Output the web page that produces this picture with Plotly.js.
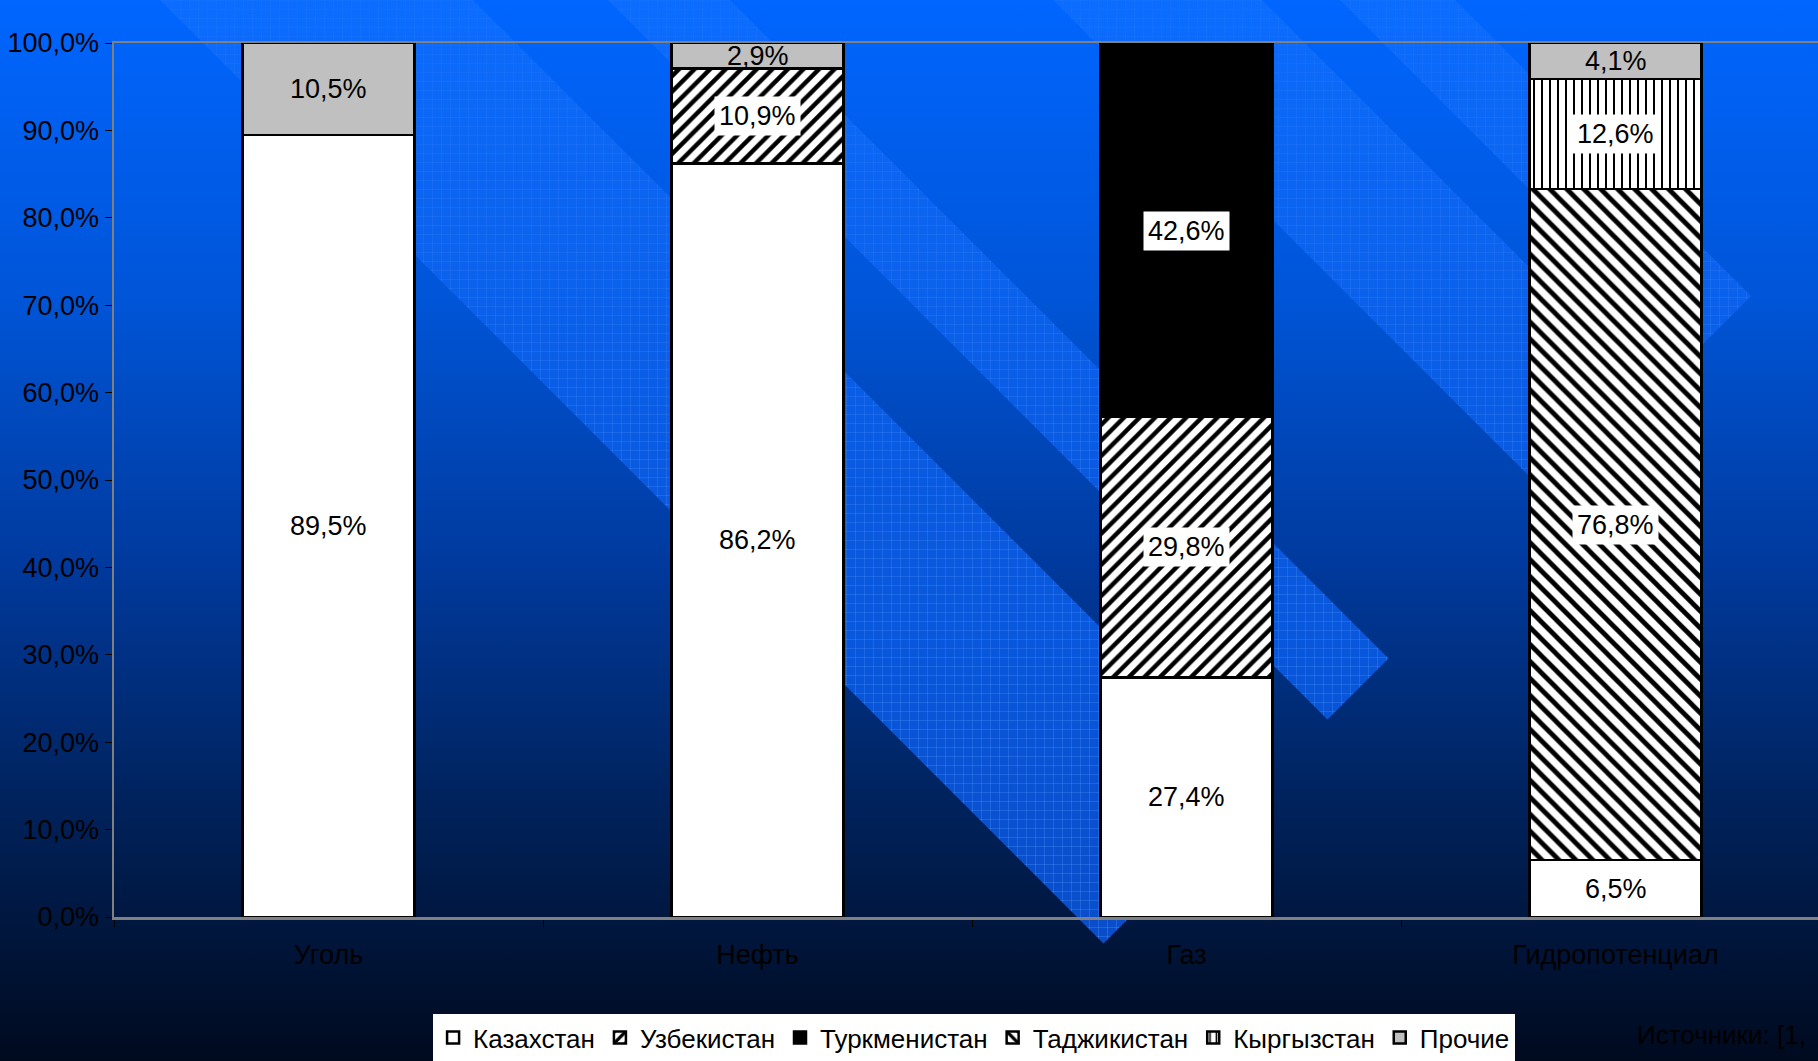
<!DOCTYPE html>
<html>
<head>
<meta charset="utf-8">
<script src="https://cdn.plot.ly/plotly-3.0.1.min.js"></script>
<style>
  html, body { margin: 0; padding: 0; width: 1818px; height: 1061px; overflow: hidden; background: #000a1f; }
  #bg { position: absolute; left: 0; top: 0; }
  #chart { position: absolute; left: 0; top: 0; width: 1818px; height: 1061px; }
</style>
</head>
<body>
<svg id="bg" width="1818" height="1061" xmlns="http://www.w3.org/2000/svg">
  <defs>
    <linearGradient id="bgGrad" x1="0" y1="0" x2="0" y2="1061" gradientUnits="userSpaceOnUse">
      <stop offset="0" stop-color="#0066ff"/>
      <stop offset="0.28" stop-color="#0055d8"/>
      <stop offset="0.53" stop-color="#003a9e"/>
      <stop offset="0.75" stop-color="#00235e"/>
      <stop offset="0.9" stop-color="#001437"/>
      <stop offset="1" stop-color="#000a1f"/>
    </linearGradient>
    <linearGradient id="bandGrad" x1="0" y1="0" x2="0" y2="1061" gradientUnits="userSpaceOnUse">
      <stop offset="0" stop-color="#1a74ff" stop-opacity="0.45"/>
      <stop offset="0.35" stop-color="#0e64f4" stop-opacity="0.7"/>
      <stop offset="0.6" stop-color="#0a5ce8" stop-opacity="0.88"/>
      <stop offset="1" stop-color="#0a4fd2" stop-opacity="0.92"/>
    </linearGradient>
    <linearGradient id="gridFade" x1="0" y1="0" x2="0" y2="1061" gradientUnits="userSpaceOnUse">
      <stop offset="0" stop-color="#fff" stop-opacity="0.25"/>
      <stop offset="0.5" stop-color="#fff" stop-opacity="0.8"/>
      <stop offset="1" stop-color="#fff" stop-opacity="1"/>
    </linearGradient>
    <mask id="gridMask" maskUnits="userSpaceOnUse" x="0" y="0" width="1818" height="1061">
      <rect x="0" y="0" width="1818" height="1061" fill="url(#gridFade)"/>
    </mask>
    <pattern id="grid" width="9" height="9" patternUnits="userSpaceOnUse">
      <path d="M0 0.5H9M0.5 0V9" stroke="rgba(90,160,255,0.3)" stroke-width="1" fill="none"/>
    </pattern>
  </defs>
  <rect x="0" y="0" width="1818" height="1061" fill="url(#bgGrad)"/>
  <g id="bands"></g>
</svg>
<div id="chart"></div>
<script>
// ---- data ----
const categories = ['Уголь', 'Нефть', 'Газ', 'Гидропотенциал'];
const seriesNames = ['Казахстан', 'Узбекистан', 'Туркменистан', 'Таджикистан', 'Кыргызстан', 'Прочие'];
const kazakhstan   = [89.5, 86.2, 27.4, 6.5];
const uzbekistan   = [null, 10.9, 29.8, null];
const turkmenistan = [null, null, 42.6, null];
const tajikistan   = [null, null, null, 76.8];
const kyrgyzstan   = [null, null, null, 12.6];
const others       = [10.5, 2.9, 0.2, 4.1];
const yTicks = [0, 10, 20, 30, 40, 50, 60, 70, 80, 90, 100];
const sourceNote = 'Источники: [1,';

// ---- decoration (template background bands) ----
(function () {
  const ns = 'http://www.w3.org/2000/svg';
  const g = document.getElementById('bands');
  const endLine = 2047;
  const bandEdges = [[-473, -160], [-730, -608], [-1262, -1053], [-1455, -1340]];
  bandEdges.forEach(function (b) {
    const c1 = b[0], c2 = b[1];
    const pts = [
      [-60 - c1, -60], [(endLine - c1) / 2, (endLine + c1) / 2],
      [(endLine - c2) / 2, (endLine + c2) / 2], [-60 - c2, -60]
    ].map(function (p) { return p[0] + ',' + p[1]; }).join(' ');
    const base = document.createElementNS(ns, 'polygon');
    base.setAttribute('points', pts);
    base.setAttribute('fill', 'url(#bandGrad)');
    g.appendChild(base);
    const grid = document.createElementNS(ns, 'polygon');
    grid.setAttribute('points', pts);
    grid.setAttribute('fill', 'url(#grid)');
    grid.setAttribute('mask', 'url(#gridMask)');
    g.appendChild(grid);
  });
})();

// ---- styles ----
const seriesValues = [kazakhstan, uzbekistan, turkmenistan, tajikistan, kyrgyzstan, others];
const seriesStyles = [
  { color: '#ffffff', pattern: null, boxed: false },
  { color: '#ffffff', pattern: { shape: '/', fgcolor: '#000000', bgcolor: '#ffffff', size: 11, solidity: 0.4 }, boxed: true },
  { color: '#000000', pattern: null, boxed: true },
  { color: '#ffffff', pattern: { shape: '\\', fgcolor: '#000000', bgcolor: '#ffffff', size: 12, solidity: 0.4 }, boxed: true },
  { color: '#ffffff', pattern: { shape: '|', fgcolor: '#000000', bgcolor: '#ffffff', size: 8, solidity: 0.25 }, boxed: true },
  { color: '#c0c0c0', pattern: null, boxed: false }
];

const fontFamily = '"Liberation Sans", Arial, sans-serif';

const traces = seriesNames.map(function (name, i) {
  const marker = { color: seriesStyles[i].color, line: { color: '#000000', width: 2.5 } };
  if (seriesStyles[i].pattern) marker.pattern = seriesStyles[i].pattern;
  return {
    type: 'bar', name: name, x: categories, y: seriesValues[i],
    width: 0.4, marker: marker, hoverinfo: 'skip'
  };
});

function fmt(v) { return v.toFixed(1).replace('.', ',') + '%'; }

const annotations = [];
categories.forEach(function (cat, ci) {
  let base = 0;
  seriesValues.forEach(function (vals, si) {
    const v = vals[ci];
    if (v === null || v === undefined) return;
    const ann = {
      x: cat, xref: 'x', yref: 'y', text: fmt(v), showarrow: false,
      font: { family: fontFamily, size: 27, color: '#000000' }
    };
    if (v < 1) {
      ann.y = base + v; ann.yanchor = 'bottom'; ann.yshift = 3;
    } else {
      ann.y = base + v / 2; ann.yanchor = 'middle';
    }
    if (seriesStyles[si].boxed && v >= 1) { ann.bgcolor = '#ffffff'; ann.borderpad = 4; }
    annotations.push(ann);
    base += v;
  });
});
annotations.push({
  text: sourceNote, xref: 'paper', yref: 'paper', x: 0.8926, y: -0.135,
  xanchor: 'left', yanchor: 'middle', showarrow: false,
  font: { family: fontFamily, size: 26, color: '#000000' }
});

const layout = {
  width: 1818, height: 1061,
  margin: { l: 114, r: 0, t: 43, b: 144, pad: 0, autoexpand: false },
  paper_bgcolor: 'rgba(0,0,0,0)', plot_bgcolor: 'rgba(0,0,0,0)',
  barmode: 'stack',
  separators: ', ',
  font: { family: fontFamily, size: 27, color: '#000000' },
  showlegend: true,
  xaxis: {
    type: 'category', range: [-0.5, 3.472],
    showline: true, linecolor: '#808080', linewidth: 2.5, mirror: true,
    ticks: 'outside', tickson: 'boundaries', ticklen: 7, tickcolor: '#000000', tickwidth: 1,
    showgrid: false, ticklabelstandoff: 12,
    tickfont: { family: fontFamily, size: 27, color: '#000000' }, fixedrange: true
  },
  yaxis: {
    range: [0, 100], tickmode: 'array', tickvals: yTicks, ticktext: yTicks.map(fmt),
    showline: true, linecolor: '#808080', linewidth: 2.5,
    ticks: 'outside', ticklen: 7, tickcolor: '#000000', tickwidth: 1,
    showgrid: false, zeroline: false,
    tickfont: { family: fontFamily, size: 27, color: '#000000' }, fixedrange: true
  },
  legend: {
    orientation: 'h', xref: 'container', yref: 'container',
    x: 0.5358, xanchor: 'center', y: 0.0443, yanchor: 'top',
    bgcolor: '#ffffff', borderwidth: 0, traceorder: 'normal', itemwidth: 30,
    font: { family: fontFamily, size: 26, color: '#000000' }
  },
  annotations: annotations
};

Plotly.newPlot('chart', traces, layout, { staticPlot: true, displayModeBar: false });
</script>
</body>
</html>
